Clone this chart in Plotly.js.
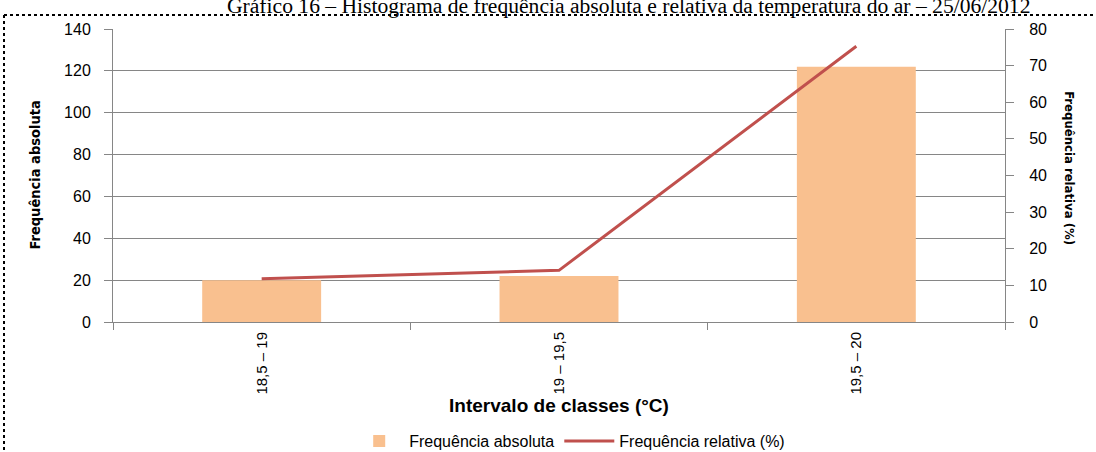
<!DOCTYPE html>
<html>
<head>
<meta charset="utf-8">
<script src="https://cdn.plot.ly/plotly-3.0.1.min.js"></script>
<style>
html,body{margin:0;padding:0;background:#fff;}
#chart{width:1096px;height:452px;}
</style>
</head>
<body>
<div id="chart"></div>
<script>
const categories = ["18,5 – 19", "19 – 19,5", "19,5 – 20"];
const freqAbsoluta = [20, 22, 122];
const freqRelativa = [11.8, 14.1, 75.3];
const leftTicks = [0, 20, 40, 60, 80, 100, 120, 140];
const rightTicks = [0, 10, 20, 30, 40, 50, 60, 70, 80];

const sans = "Liberation Sans, Arial, sans-serif";
const tickFont = {family: sans, size: 16, color: "#000"};
const axisGray = "#868686";
const narrowBold = "Liberation Sans Narrow, Arial Narrow, DejaVu Sans Condensed, sans-serif";

const traces = [
  {
    type: "bar", x: categories, y: freqAbsoluta, name: "Frequência absoluta",
    marker: {color: "#F9C08F"}, width: 0.4, yaxis: "y"
  },
  {
    type: "scatter", mode: "lines", x: categories, y: freqRelativa, name: "Frequência relativa (%)",
    line: {color: "#C0504D", width: 3}, yaxis: "y2"
  }
];

const layout = {
  width: 1096, height: 452,
  margin: {l: 113, r: 91, t: 29, b: 130},
  paper_bgcolor: "#fff", plot_bgcolor: "#fff",
  showlegend: true,
  legend: {orientation: "h", x: 0.512, xanchor: "center", xref: "paper",
    y: 11/452, yanchor: "middle", yref: "container",
    font: {family: sans, size: 16, color: "#000"},
    itemwidth: 50, tracegroupgap: 0},
  bargap: 0.6,
  xaxis: {
    type: "category", showline: true, linecolor: axisGray, linewidth: 1,
    ticks: "outside", tickson: "boundaries", ticklen: 7, tickcolor: axisGray,
    tickangle: -90, tickfont: {family: sans, size: 15, color: "#000"}, showgrid: false, zeroline: false,
    automargin: false, ticklabelstandoff: 3,
    title: {text: "Intervalo de classes (°C)", font: {family: sans, size: 19, color: "#000", weight: "bold"}, standoff: 0}
  },
  yaxis: {
    range: [0, 140], tickvals: leftTicks, showline: true, linecolor: axisGray,
    ticks: "outside", ticklen: 8, tickcolor: axisGray, tickfont: tickFont,
    showgrid: true, gridcolor: axisGray, gridwidth: 1, zeroline: false, ticklabelstandoff: 10,
    automargin: false
  },
  yaxis2: {
    range: [0, 80], tickvals: rightTicks, overlaying: "y", side: "right",
    showline: true, linecolor: axisGray, ticks: "outside", ticklen: 8, tickcolor: axisGray,
    tickfont: tickFont, showgrid: false, zeroline: false, ticklabelstandoff: 12,
    automargin: false
  },
  annotations: [
    {text: "Gráfico 16 – Histograma de frequência absoluta e relativa da temperatura do ar – 25/06/2012",
     xref: "paper", yref: "paper", x: 0.578, y: 1 + 9/293, xanchor: "center", yanchor: "bottom",
     showarrow: false, font: {family: "Liberation Serif, Times New Roman, serif", size: 21.6, color: "#000"}},
    {text: "Frequência absoluta", xref: "paper", yref: "paper", x: -79/892, y: 0.5, textangle: -90,
     xanchor: "center", yanchor: "middle", showarrow: false,
     font: {family: narrowBold, size: 14.5, color: "#000", weight: "bold"}},
    {text: "Frequência relativa (%)", xref: "paper", yref: "paper", x: 1 + 65/892, y: 0.525, textangle: 90,
     xanchor: "center", yanchor: "middle", showarrow: false,
     font: {family: narrowBold, size: 13, color: "#000", weight: "bold"}}
  ],
  shapes: [
    {type: "line", xref: "paper", yref: "paper", x0: -109/892, x1: 1 + 100/892, y0: 1 + 14/293, y1: 1 + 14/293,
     line: {color: "#000", width: 2, dash: "dot"}},
    {type: "line", xref: "paper", yref: "paper", x0: -109/892, x1: -109/892, y0: 1 + 14/293, y1: -140/293,
     line: {color: "#000", width: 2, dash: "dot"}}
  ]
};

Plotly.newPlot("chart", traces, layout, {displayModeBar: false, staticPlot: true});
</script>
</body>
</html>
